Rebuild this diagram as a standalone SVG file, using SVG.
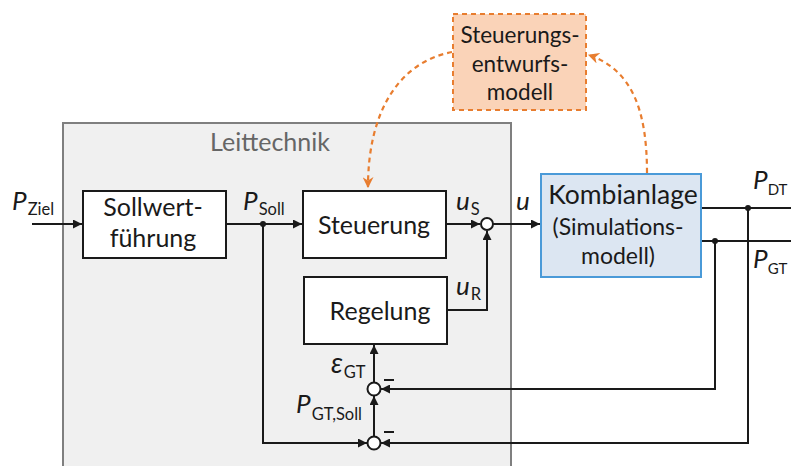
<svg xmlns="http://www.w3.org/2000/svg" width="791" height="466" viewBox="0 0 791 466">
  <style>
    text { font-family: Lato, "Open Sans", "Liberation Sans", sans-serif; fill: #1a1a1a; }
    .lbl { font-size: 25px; text-anchor: middle; }
    .sym { font-size: 26px; font-style: italic; }
    .sub { font-size: 16.5px; font-style: normal; }
    .box { fill: #ffffff; stroke: #1a1a1a; stroke-width: 2; }
    .wire { fill: none; stroke: #1a1a1a; stroke-width: 2; }
    .sum { fill: #ffffff; stroke: #1a1a1a; stroke-width: 2; }
    .dash { fill: none; stroke: #e87d2f; stroke-width: 2.2; stroke-dasharray: 5 4; }
  </style>
  <defs>
    <marker id="arr" viewBox="0 0 10 10" refX="10" refY="5" markerWidth="4.5" markerHeight="4.5" orient="auto" markerUnits="strokeWidth">
      <path d="M0,0 L10,5 L0,10 z" fill="#1a1a1a"/>
    </marker>
    <marker id="arrO" viewBox="0 0 10 10" refX="9" refY="5" markerWidth="5" markerHeight="5" orient="auto" markerUnits="strokeWidth">
      <path d="M0,0 L10,5 L0,10 L3,5 z" fill="#e87d2f"/>
    </marker>
  </defs>

  <rect width="791" height="466" fill="#ffffff"/>

  <!-- control system frame -->
  <g id="leittechnik">
    <rect x="63" y="123" width="448" height="360" fill="#f0f0f0" stroke="#7f7f7f" stroke-width="2"/>
    <text x="270" y="151" style="font-size:25px; text-anchor:middle; fill:#666666">Leittechnik</text>
  </g>

  <!-- connectors -->
  <g id="connectors">
    <!-- input and setpoint path -->
    <line class="wire" x1="32" y1="224" x2="82" y2="224" marker-end="url(#arr)"/>
    <line class="wire" x1="226" y1="224" x2="302" y2="224" marker-end="url(#arr)"/>
    <line class="wire" x1="446" y1="224" x2="480" y2="224" marker-end="url(#arr)"/>
    <line class="wire" x1="493" y1="224" x2="540" y2="224" marker-end="url(#arr)"/>
    <polyline class="wire" points="447,310 487,310 487,231" marker-end="url(#arr)"/>
    <!-- setpoint branch down to lower summing point -->
    <polyline class="wire" points="263,224 263,443 367,443" marker-end="url(#arr)"/>
    <!-- plant outputs -->
    <line class="wire" x1="701" y1="208" x2="791" y2="208"/>
    <line class="wire" x1="701" y1="241" x2="791" y2="241"/>
    <polyline class="wire" points="715,241 715,389 381,389" marker-end="url(#arr)"/>
    <polyline class="wire" points="748,208 748,443 381,443" marker-end="url(#arr)"/>
    <!-- feedback summing chain -->
    <line class="wire" x1="374" y1="436" x2="374" y2="396" marker-end="url(#arr)"/>
    <line class="wire" x1="374" y1="382" x2="374" y2="345" marker-end="url(#arr)"/>
    <!-- junction dots -->
    <circle cx="263" cy="224" r="3" fill="#1a1a1a"/>
    <circle cx="748" cy="208" r="3" fill="#1a1a1a"/>
    <circle cx="715" cy="241" r="3" fill="#1a1a1a"/>
    <!-- design model links -->
    <path class="dash" d="M452,52 C400,62 368,110 368,187" marker-end="url(#arrO)"/>
    <path class="dash" d="M647,173 C647,110 632,70 589,55" marker-end="url(#arrO)"/>
  </g>

  <g id="sum-u">
    <circle class="sum" cx="487" cy="224" r="6"/>
  </g>
  <g id="sum-eps">
    <circle class="sum" cx="374" cy="389" r="6.5"/>
    <line x1="384" y1="380" x2="394" y2="380" stroke="#1a1a1a" stroke-width="2"/>
  </g>
  <g id="sum-soll">
    <circle class="sum" cx="374" cy="443" r="6.5"/>
    <line x1="384" y1="432" x2="394" y2="432" stroke="#1a1a1a" stroke-width="2"/>
  </g>

  <g id="sollwertfuehrung">
    <rect class="box" x="83" y="191" width="143" height="67"/>
    <text class="lbl" x="153" y="216">Sollwert-</text>
    <text class="lbl" x="153" y="247">führung</text>
  </g>

  <g id="steuerung">
    <rect class="box" x="303" y="191" width="143" height="67"/>
    <text class="lbl" x="374" y="234">Steuerung</text>
  </g>

  <g id="regelung">
    <rect class="box" x="304" y="277" width="143" height="67"/>
    <text class="lbl" x="380" y="320">Regelung</text>
  </g>

  <g id="kombianlage">
    <rect x="541" y="174" width="160" height="103" fill="#dce6f2" stroke="#4a9ad8" stroke-width="2"/>
    <text class="lbl" x="623" y="204" style="font-size:26.5px">Kombianlage</text>
    <text class="lbl" x="618" y="235" style="font-size:23px">(Simulations-</text>
    <text class="lbl" x="618" y="264" style="font-size:23px">modell)</text>
  </g>

  <g id="steuerungsentwurfsmodell">
    <rect x="453" y="14" width="133" height="96" fill="#fad3b8" stroke="#e87d2f" stroke-width="2" stroke-dasharray="5 4"/>
    <text class="lbl" x="520" y="43" style="font-size:22.5px">Steuerungs-</text>
    <text class="lbl" x="520" y="72" style="font-size:22.5px">entwurfs-</text>
    <text class="lbl" x="520" y="100" style="font-size:22.5px">modell</text>
  </g>

  <!-- signal labels -->
  <g id="signal-labels">
    <text class="sym" x="12" y="210">P<tspan class="sub" dx="1" dy="5">Ziel</tspan></text>
    <text class="sym" x="243" y="210">P<tspan class="sub" dx="1" dy="5">Soll</tspan></text>
    <text class="sym" x="456" y="210">u<tspan class="sub" dx="1" dy="5">S</tspan></text>
    <text class="sym" x="516" y="210">u</text>
    <text class="sym" x="456" y="295">u<tspan class="sub" dx="1" dy="5">R</tspan></text>
    <text class="sym" x="331" y="373" style="font-size:28px">ε<tspan class="sub" dx="1" dy="5">GT</tspan></text>
    <text class="sym" x="296" y="413">P<tspan class="sub" dx="1" dy="7">GT,Soll</tspan></text>
    <text class="sym" x="753" y="189">P<tspan class="sub" dy="6" style="font-size:15px">DT</tspan></text>
    <text class="sym" x="753" y="268">P<tspan class="sub" dy="6" style="font-size:15px">GT</tspan></text>
  </g>
</svg>
